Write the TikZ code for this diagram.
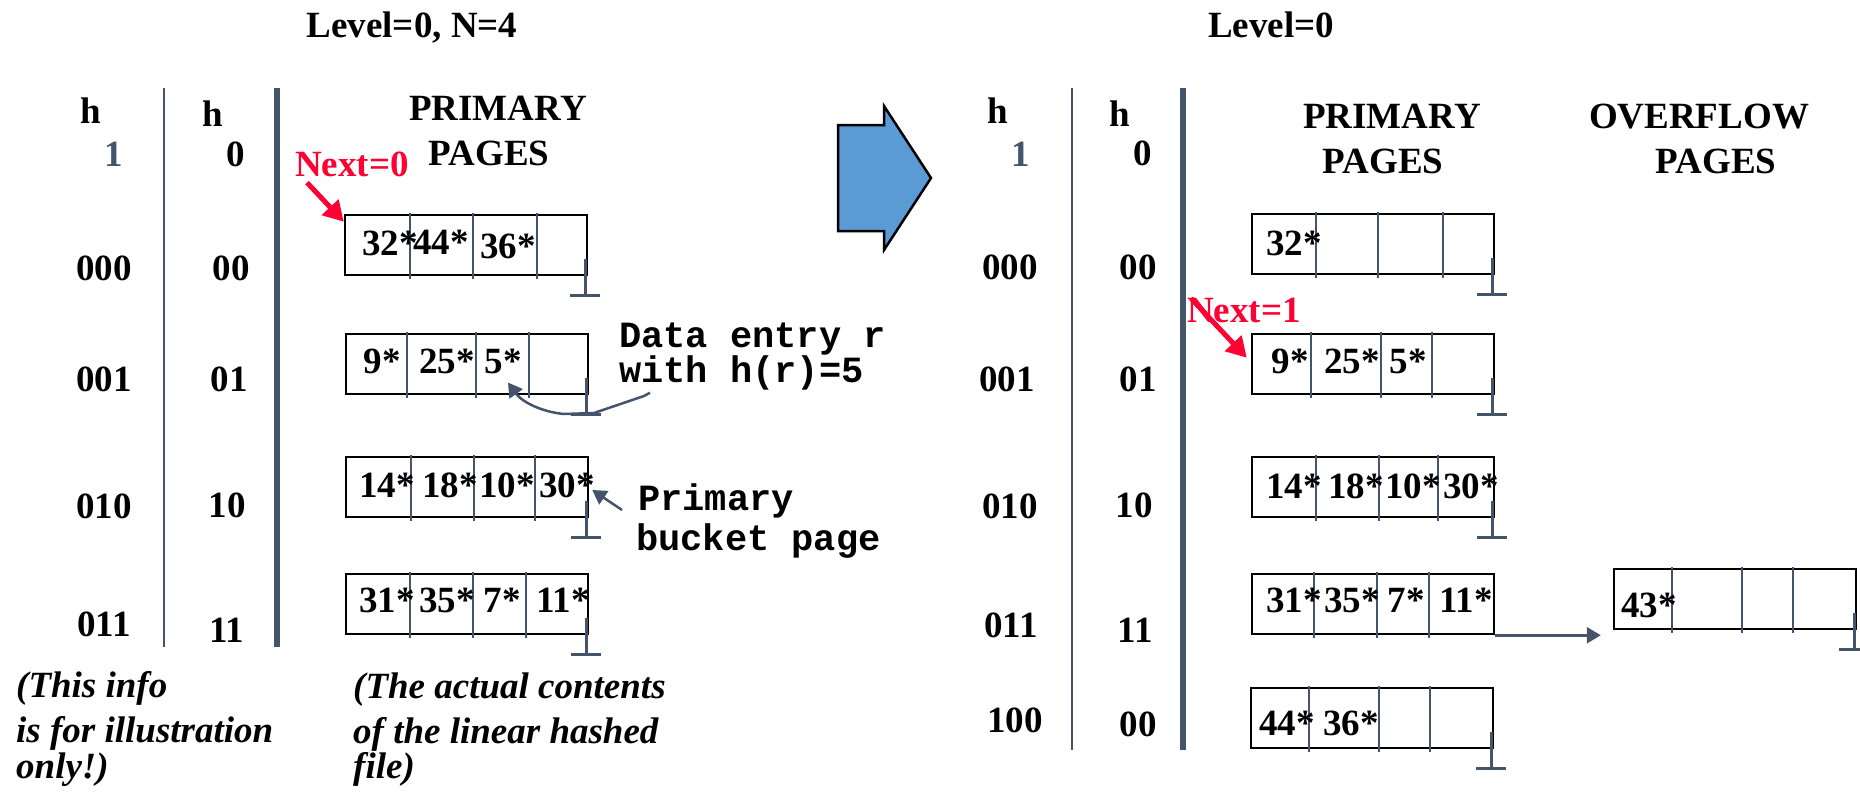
\documentclass[tikz,border=0pt]{standalone}
\usepackage{fontspec}
\setmainfont{Liberation Serif}
\setmonofont{Liberation Mono}
\usetikzlibrary{arrows.meta,calc}
\definecolor{slate}{HTML}{44546A}
\definecolor{nxred}{RGB}{255,0,51}
\definecolor{arrblue}{HTML}{5B9BD5}
\newcommand{\tightlines}{\lineskiplimit=-100pt\relax\lineskip=0pt\relax}
\newcommand{\bucketdivs}[2]{\foreach \dx in {#2}{\draw[divider] ([xshift=\dx pt,yshift=1pt]#1.north west) -- ([xshift=\dx pt, yshift=-3pt]#1.south west);}}
\newcommand{\nullptr}[1]{\draw[nul] ([xshift=-3pt,yshift=17pt]#1.south east) -- ([xshift=-3pt,yshift=-19pt]#1.south east);
  \draw[nul] ([xshift=-18pt,yshift=-19pt]#1.south east) -- ([xshift=12pt,yshift=-19pt]#1.south east);}
\begin{document}
\begin{tikzpicture}[x=1pt,y=-1pt,
  lbl/.style={font=\fontsize{37}{44}\selectfont\bfseries, inner sep=0pt, anchor=base},
  ent/.style={lbl},
  mono/.style={font=\fontsize{37}{40}\selectfont\ttfamily\bfseries, inner sep=0pt, anchor=base west},
  monotight/.style={font={\fontsize{37}{35}\selectfont\ttfamily\bfseries\tightlines}, inner sep=0pt, align=left, anchor=north west},
  note/.style={font=\fontsize{37}{44}\selectfont\bfseries\itshape, inner sep=0pt, anchor=base west},
  bucket/.style={draw=black, line width=2.5pt, minimum width=242pt, minimum height=60pt, inner sep=0pt},
  divider/.style={draw=slate, line width=2pt},
  nul/.style={draw=slate, line width=2.5pt},
  septhin/.style={draw=slate, line width=2.8pt},
  septhick/.style={draw=slate, line width=5.5pt},
  redarrow/.style={draw=nxred, line width=5pt, -{Triangle[length=20pt,width=22pt]}},
  slatearrow/.style={draw=slate, line width=2.5pt, -{Triangle[length=14pt,width=16pt]}},
]
\fill[white] (0,0) rectangle (1860,795);
\useasboundingbox (0,0) rectangle (1860,795);

% ---------- titles ----------
\node[lbl] (lev1) at (412,37) {Level=0, N=4};
\node[lbl] (lev2) at (1271,37) {Level=0};

% ---------- left panel headers ----------
\node[lbl] (lh1) at (91,123) {h};
\node[lbl, text=slate] (lh1s) at (114,166) {1};
\node[lbl] (lh0) at (213,126) {h};
\node[lbl] (lh0s) at (236,166) {0};
\draw[septhin] (164,88) -- (164,647);
\draw[septhick] (277,88) -- (277,647);
\node[lbl] (lprim) at (498,120) {PRIMARY};
\node[lbl] (lpag) at (489,165) {PAGES};

% left row labels
\node[lbl] (la000) at (104,280) {000};
\node[lbl] (la001) at (104,391) {001};
\node[lbl] (la010) at (104,518) {010};
\node[lbl] (la011) at (104,636) {011};
\node[lbl] (lb00) at (231,280) {00};
\node[lbl] (lb01) at (229,391) {01};
\node[lbl] (lb10) at (227,517) {10};
\node[lbl] (lb11) at (227,642) {11};

% left buckets
\node[bucket] (L1) at (466,245) {};
\node[bucket] (L2) at (467,364) {};
\node[bucket] (L3) at (467,487) {};
\node[bucket] (L4) at (467,604) {};
\bucketdivs{L1}{66,129,193}
\bucketdivs{L2}{62,131,184}
\bucketdivs{L3}{66,129,190}
\bucketdivs{L4}{65,128,181}
\nullptr{L1}\nullptr{L2}\nullptr{L3}\nullptr{L4}

\node[ent] (L1a) at (390,255) {32*};
\node[ent] (L1b) at (441,254) {44*};
\node[ent] (L1c) at (508,258) {36*};
\node[ent] (L2a) at (382,373) {9*};
\node[ent] (L2b) at (447,373) {25*};
\node[ent] (L2c) at (503,373) {5*};
\node[ent] (L3a) at (387,497) {14*};
\node[ent] (L3b) at (450,497) {18*};
\node[ent] (L3c) at (507,497) {10*};
\node[ent] (L3d) at (567,497) {30*};
\node[ent] (L4a) at (387,612) {31*};
\node[ent] (L4b) at (447,612) {35*};
\node[ent] (L4c) at (502,612) {7*};
\node[ent] (L4d) at (563,612) {11*};

% Next=0
\node[lbl, text=nxred] (next0) at (352,176) {Next=0};
\draw[redarrow] ([xshift=12pt,yshift=-6pt]next0.south west) -- ([yshift=-8pt]L1.north west);

% annotations
\node[monotight] (de) at (619,323) {Data entry r\\with h(r)=5};
\draw[slatearrow] ([xshift=31pt,yshift=-2pt]de.south west) -- (644,396) -- (594,413) -- (564,414)
  .. controls (542,412) and (522,402) .. ([xshift=5pt,yshift=-9pt]L2c.south);
\node[mono] (pb1) at (638,510) {Primary};
\node[mono] (pb2) at (636,550) {bucket page};
\draw[slatearrow] ([xshift=-16pt]pb1.base west) -- ([xshift=3pt,yshift=-3pt]L3.east);

\node[note] (n1a) at (16,697) {(This info};
\node[note] (n1b) at (16,742) {is for illustration};
\node[note] (n1c) at (16,778) {only!)};
\node[note] (n2a) at (353,698) {(The actual contents};
\node[note] (n2b) at (353,743) {of the linear hashed};
\node[note] (n2c) at (353,778) {file)};

% ---------- big arrow ----------
\draw[fill=arrblue, line width=2.5pt, line join=miter] (838,125) -- (884,125) -- (884,106) -- (931,178) -- (884,250) -- (884,231) -- (838,231) -- cycle;

% ---------- right panel ----------
\node[lbl] (rh1) at (998,123) {h};
\node[lbl, text=slate] (rh1s) at (1021,166) {1};
\node[lbl] (rh0) at (1120,126) {h};
\node[lbl] (rh0s) at (1143,165) {0};
\draw[septhin] (1072,88) -- (1072,750);
\draw[septhick] (1183,88) -- (1183,750);
\node[lbl] (rprim) at (1392,128) {PRIMARY};
\node[lbl] (rpag) at (1383,173) {PAGES};
\node[lbl] (oprim) at (1699,128) {OVERFLOW};
\node[lbl] (opag) at (1716,173) {PAGES};

\node[lbl] (ra000) at (1010,279) {000};
\node[lbl] (ra001) at (1007,391) {001};
\node[lbl] (ra010) at (1010,518) {010};
\node[lbl] (ra011) at (1011,637) {011};
\node[lbl] (ra100) at (1015,732) {100};
\node[lbl] (rb00) at (1138,279) {00};
\node[lbl] (rb01) at (1138,391) {01};
\node[lbl] (rb10) at (1134,517) {10};
\node[lbl] (rb11) at (1135,642) {11};
\node[lbl] (rb00b) at (1138,736) {00};

\node[bucket] (R1) at (1373,244) {};
\node[bucket] (R2) at (1373,364) {};
\node[bucket] (R3) at (1373,487) {};
\node[bucket] (R4) at (1373,604) {};
\node[bucket] (R5) at (1372,718) {};
\node[bucket] (OV) at (1735,599) {};
\bucketdivs{R1}{65,127,192}
\bucketdivs{R2}{60,130,181}
\bucketdivs{R3}{65,128,187}
\bucketdivs{R4}{63,126,178}
\bucketdivs{R5}{59,129,180}
\bucketdivs{OV}{59,129,180}
\nullptr{R1}\nullptr{R2}\nullptr{R3}\nullptr{R5}\nullptr{OV}

\node[ent] (R1a) at (1294,255) {32*};
\node[ent] (R2a) at (1290,373) {9*};
\node[ent] (R2b) at (1352,373) {25*};
\node[ent] (R2c) at (1408,373) {5*};
\node[ent] (R3a) at (1294,498) {14*};
\node[ent] (R3b) at (1356,498) {18*};
\node[ent] (R3c) at (1413,498) {10*};
\node[ent] (R3d) at (1471,498) {30*};
\node[ent] (R4a) at (1294,612) {31*};
\node[ent] (R4b) at (1352,612) {35*};
\node[ent] (R4c) at (1406,612) {7*};
\node[ent] (R4d) at (1466,612) {11*};
\node[ent] (R5a) at (1287,735) {44*};
\node[ent] (R5b) at (1351,735) {36*};
\node[ent] (OVa) at (1649,617) {43*};

\draw[slatearrow] (R4.south east) -- ($(OV.west |- R4.south east)+(-12,0)$);

\node[lbl, text=nxred] (next1) at (1244,322) {Next=1};
\draw[redarrow] ([xshift=4pt,yshift=-1pt]next1.north west) -- ([xshift=-4pt,yshift=-25pt]R2.north west);
\end{tikzpicture}
\end{document}
